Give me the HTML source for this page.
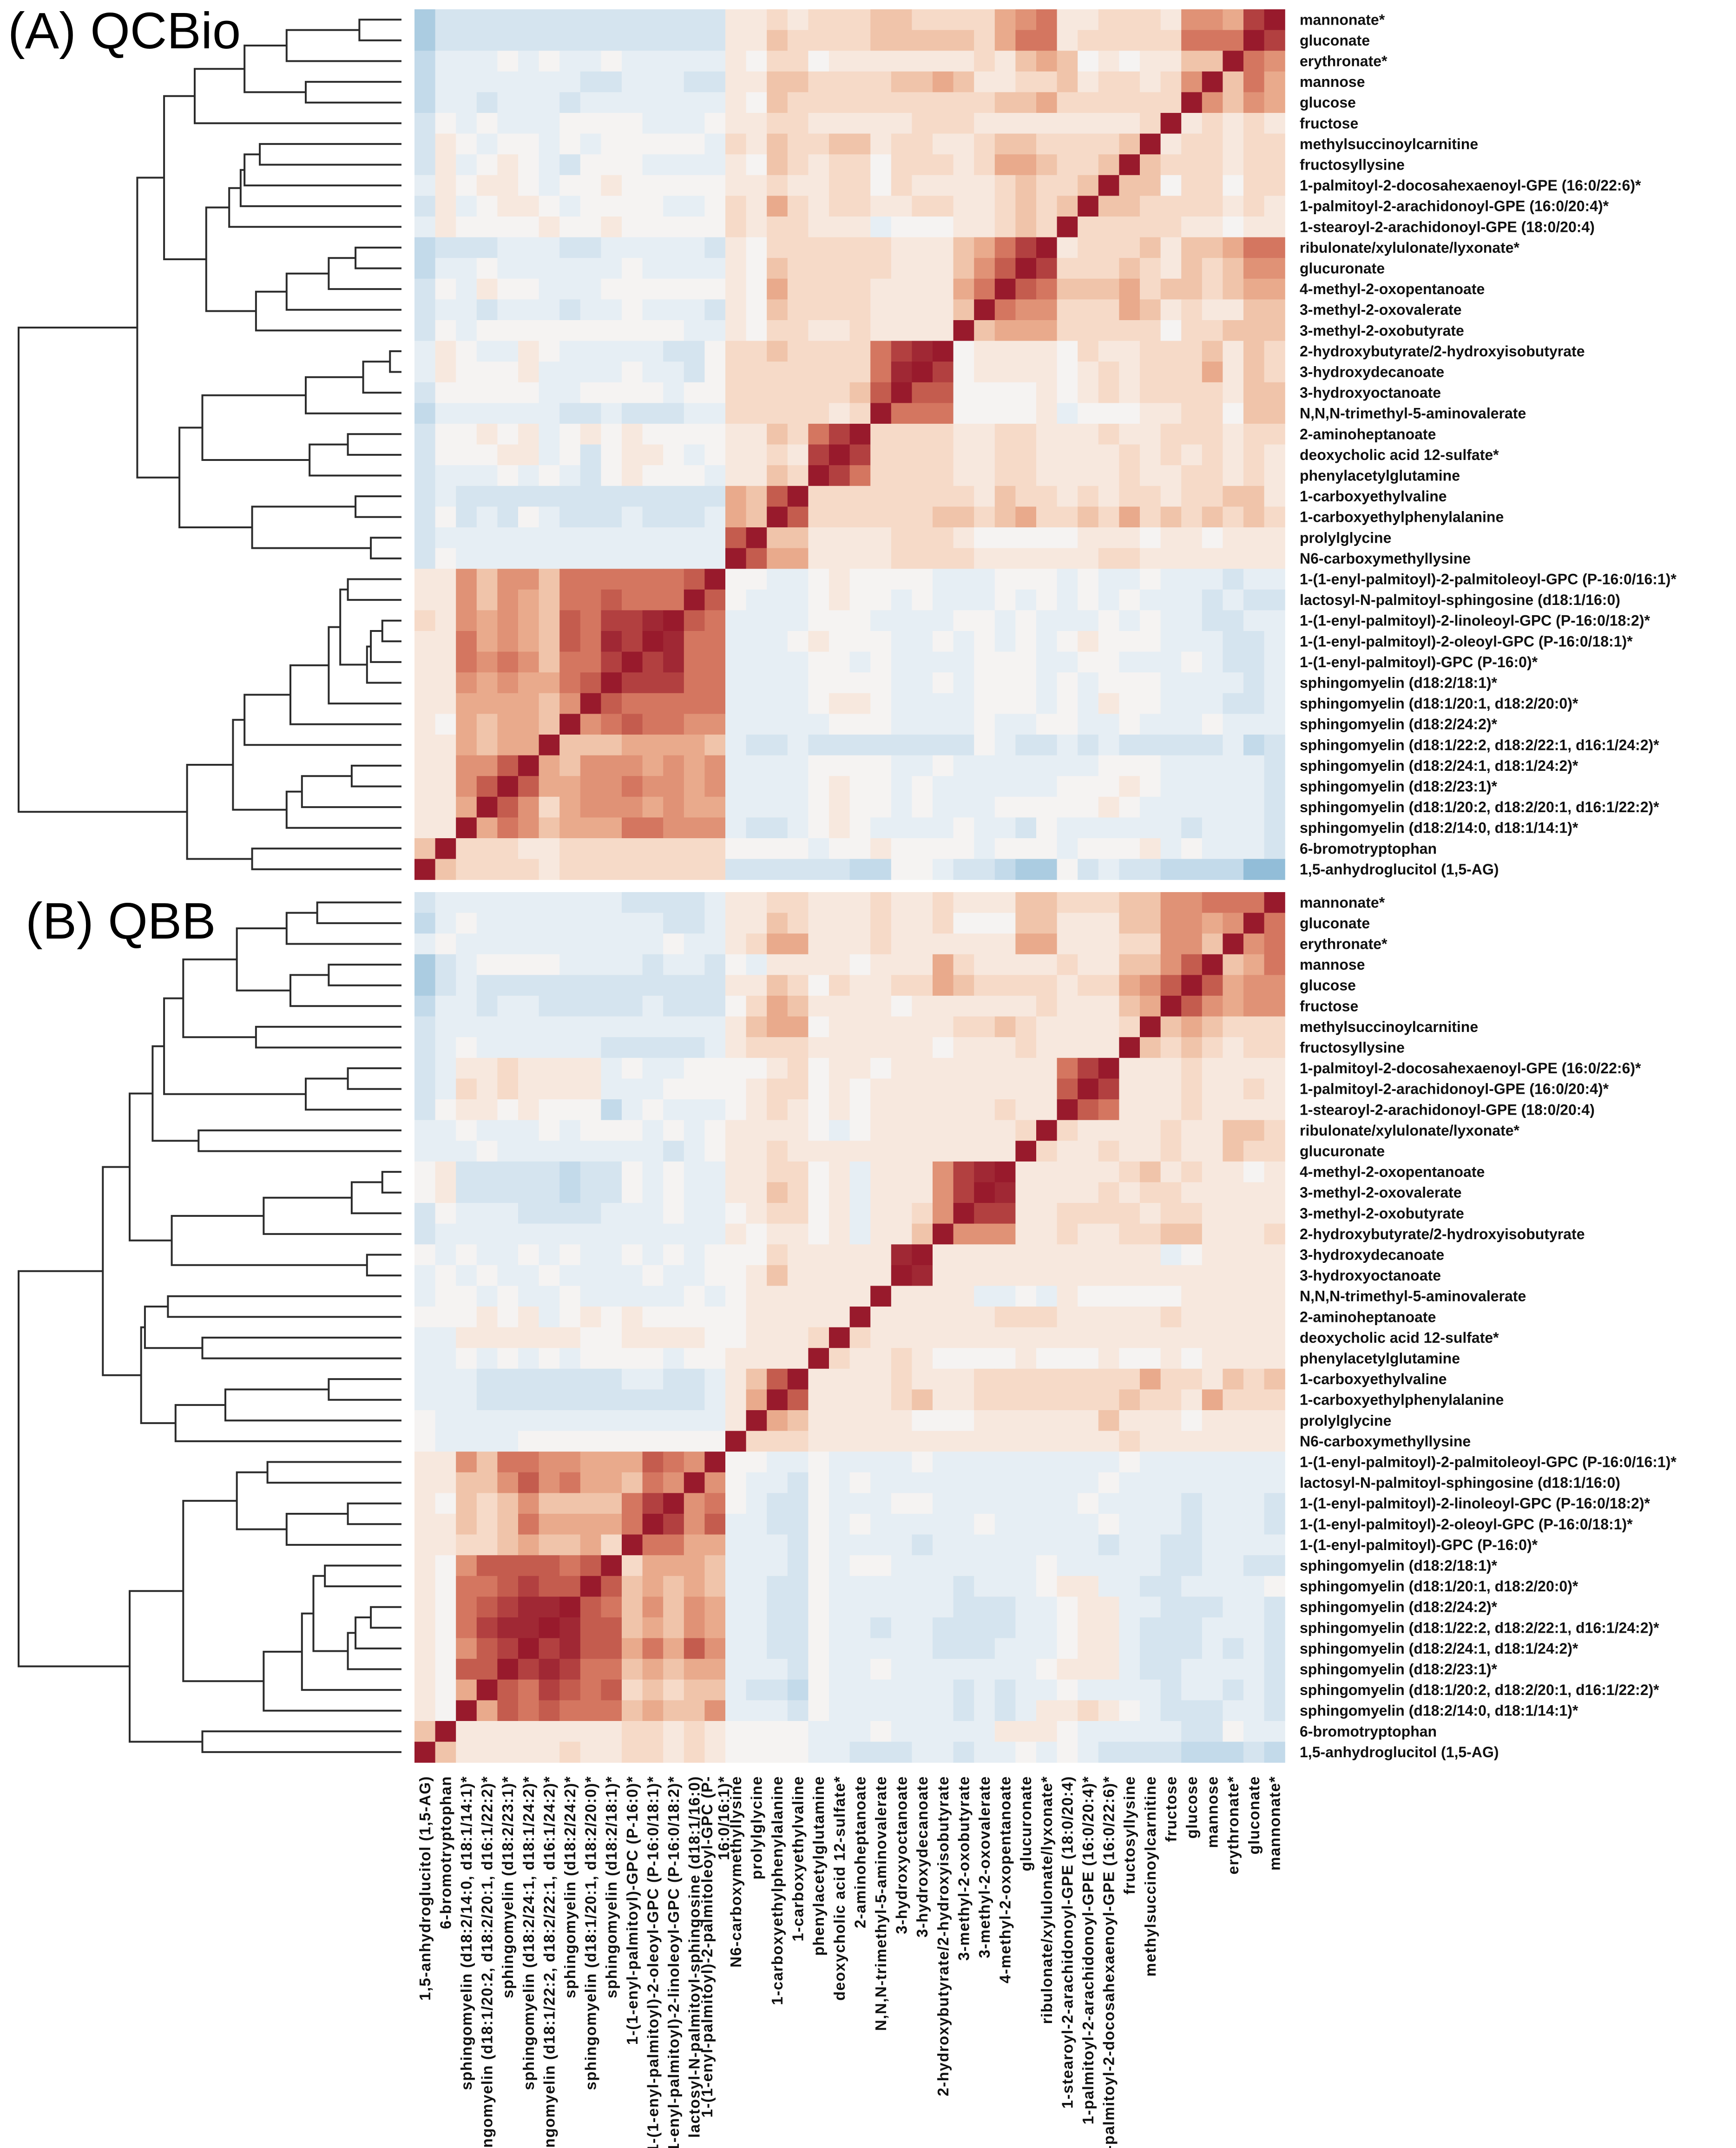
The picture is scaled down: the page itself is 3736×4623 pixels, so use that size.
<!DOCTYPE html>
<html><head><meta charset="utf-8"><style>
html,body{margin:0;padding:0;background:#fff;}
svg{display:block;}
text{font-family:"Liberation Sans",Arial,sans-serif;}
</style></head>
<body>
<svg id="fig" xmlns="http://www.w3.org/2000/svg" width="3736" height="4623" viewBox="0 0 3736 4623">
<rect x="0" y="0" width="3736" height="4623" fill="#ffffff"/>
<text x="17" y="104" font-size="110" fill="#000">(A) QCBio</text>
<text x="55" y="2020" font-size="110" fill="#000">(B) QBB</text>
<g id="panelA"></g>
<g id="panelB"></g>
<g id="dendA"></g>
<g id="dendB"></g>
<g id="rowLabA"></g>
<g id="rowLabB"></g>
<g id="colLab"></g>
</svg>
<script>
// ---- data ----
const rowLabels = ["mannonate*","gluconate","erythronate*","mannose","glucose","fructose","methylsuccinoylcarnitine","fructosyllysine","1-palmitoyl-2-docosahexaenoyl-GPE (16:0/22:6)*","1-palmitoyl-2-arachidonoyl-GPE (16:0/20:4)*","1-stearoyl-2-arachidonoyl-GPE (18:0/20:4)","ribulonate/xylulonate/lyxonate*","glucuronate","4-methyl-2-oxopentanoate","3-methyl-2-oxovalerate","3-methyl-2-oxobutyrate","2-hydroxybutyrate/2-hydroxyisobutyrate","3-hydroxydecanoate","3-hydroxyoctanoate","N,N,N-trimethyl-5-aminovalerate","2-aminoheptanoate","deoxycholic acid 12-sulfate*","phenylacetylglutamine","1-carboxyethylvaline","1-carboxyethylphenylalanine","prolylglycine","N6-carboxymethyllysine","1-(1-enyl-palmitoyl)-2-palmitoleoyl-GPC (P-16:0/16:1)*","lactosyl-N-palmitoyl-sphingosine (d18:1/16:0)","1-(1-enyl-palmitoyl)-2-linoleoyl-GPC (P-16:0/18:2)*","1-(1-enyl-palmitoyl)-2-oleoyl-GPC (P-16:0/18:1)*","1-(1-enyl-palmitoyl)-GPC (P-16:0)*","sphingomyelin (d18:2/18:1)*","sphingomyelin (d18:1/20:1, d18:2/20:0)*","sphingomyelin (d18:2/24:2)*","sphingomyelin (d18:1/22:2, d18:2/22:1, d16:1/24:2)*","sphingomyelin (d18:2/24:1, d18:1/24:2)*","sphingomyelin (d18:2/23:1)*","sphingomyelin (d18:1/20:2, d18:2/20:1, d16:1/22:2)*","sphingomyelin (d18:2/14:0, d18:1/14:1)*","6-bromotryptophan","1,5-anhydroglucitol (1,5-AG)"];
// column labels: left to right = reverse of row order
const colLabels = rowLabels.slice().reverse();
// correlation rows (screen order), one char per cell: 0-9 => 0.0-0.9, X => 1.0, a-e => -0.1..-0.5
const corrA = [
"db"+"bbbbbbbbbbbbb"+"11212223322224561122215548X",
"db"+"bbbbbbbbbbbbb"+"1132222333332466122222666X8",
"ca"+"aa0a0aa0aaaaa"+"102201111111213430101133X65",
"ca"+"aaaaaabbaaabb"+"11332222334311223122125X364",
"ca"+"abaaabaaaaaaa"+"1032222222222334222222X5354",
"b0"+"a0aaa0000aaa0"+"112211111222111111112X12121",
"b1"+"0a00a0a00000a"+"21322331221123322223X122122",
"b1"+"a010ab000aaaa"+"1032122022212443223X3222122",
"a1"+"0110a00100000"+"112112202111123223X33022022",
"b1"+"a0110a0000aa0"+"21421221122112323X332222121",
"a1"+"0000100100000"+"2122111a00011232X2222211011",
"cb"+"bbaaabbaaaaab"+"102222221113468X12223133466",
"ca"+"a0aaaaaa0aaaa"+"10322222111357X822232132355",
"b0"+"a100aaa000000"+"1042222111146X7633342332344",
"ba"+"abaaabaa0aaab"+"103222211113X65522243121133",
"b0"+"a0000000000aa"+"10221121111X344422222022333",
"a1"+"0aa10aaaaabb0"+"2232222689X0111102112223132",
"a1"+"0001aaaa0aab0"+"222222269X80111101212224132",
"b0"+"0000aa0000a00"+"22222237X770000101212222133",
"ca"+"aaaaabbabbbaa"+"2222212X66600001a0001122033",
"b0"+"0101a01010000"+"113268X22221122111211222122",
"b0"+"0011a0b0110a0"+"11218X822221122111121212121",
"ba"+"aa0a0ab01000a"+"1132X8622221122111121122121",
"ba"+"bbbbbbbbbbbbb"+"437X22222222132212122122331",
"b0"+"bab0abbbabbba"+"43X722222233234223242323232",
"ba"+"aaaaaaaaaaaaa"+"7X3311112221000001110110111",
"b0"+"aaaaaaaaaaaaa"+"X74411112222111111221111111",
"11"+"535536666667X"+"00aa010000aaa000a0aa0aaabaa",
"11"+"53543667666X7"+"0aaa0100a0aaa0a0a0a0aaababb",
"21"+"5454376889X76"+"aaaa000aaaa00a0aaa0a0aabbaa",
"11"+"645437698X966"+"aaa01000aa0a0a0a01000aaabba",
"11"+"65653668X8966"+"aaaa00a0aaaa000aa00aaa0abba",
"11"+"5454467X88866"+"aaaa0000aa0a000a0a000aaaaba",
"11"+"444435X766666"+"aaaa0110aaaa000a0a100aaabba",
"10"+"43443X5676655"+"aaaaa000aaaa0aa00aa0aaa0aaa",
"11"+"4344X33344443"+"abbabbbbbbbb0abbababbbbbacb",
"11"+"557X435554545"+"aaaa0000aa0aaaaaaa000aaaaab",
"11"+"57X7445565545"+"aaaa0100a0aaaaaa00010aaaaab",
"11"+"4X75245554544"+"aaaa0100a0aaa0000010aaaaaab",
"11"+"X465344466555"+"abba010aaaa0aab0aaaaaabaaab",
"3X"+"2221122222222"+"0000a0010000a000a0001a0aaab",
"X3"+"2222122222222"+"bbbbbbcc00abbcdd0babbccccee"
];
const corrB = [
"ba"+"aaaaaaaabbbba"+"11221112112111332223355666X",
"ca"+"0aaaaaaaaabba"+"1132111211200033111335545X6",
"a0"+"aaaaaaaaaa0aa"+"124411121111114411122553X56",
"db"+"a0000aaaabaab"+"0a111101114211112113357X346",
"db"+"abbbbbbbbbbbb"+"1132021122432222122457X7455",
"ca"+"abaabbbbbabbb"+"024311110111111211134X75455",
"ba"+"aaaaaaaaaaaaa"+"13440111111223211112X343222",
"ba"+"0aaaaaabbbbba"+"1222111111011121111X3232122",
"ba"+"1121111a0aa00"+"001201101111111168X11121111",
"ba"+"2121111aaa000"+"01220101111111117X811121121",
"b0"+"1101000ca0aaa"+"0121010111111211X7611121111",
"aa"+"0aaa0a000a0a0"+"11110a011111112X21111211332",
"aa"+"a0aaaaaaaaba0"+"11211111111111X211211211322",
"01"+"bbbbbcbb0a0aa"+"112201a111589X1111123121101",
"01"+"bbbbbcbb0a0aa"+"113201a11158X91111212211111",
"b0"+"aaabbbbaaa0aa"+"012201a1125X881122221221111",
"ba"+"aaaaaaaaaaaaa"+"101101a113X5551121122331112",
"0a"+"0aa0a0aa0a0a0"+"002111119X11111111111a01111",
"a0"+"a0aa0aaaa0aa0"+"01311111X911111111111111111",
"a0"+"0a0aa0aaaaa0a"+"0111111X1111aa0a10000011111",
"00"+"0101a01010000"+"011111X11111122211111211111",
"aa"+"1111110011110"+"01112X211111111111111111111",
"aa"+"0a0a0a0000a00"+"1111X2112100001000100101111",
"aa"+"abbbbbbbaabba"+"137X11112111222222224221323",
"aa"+"abbbbbbbbbbba"+"14X711112311222222232214222",
"0a"+"aaaaaaaaaaaaa"+"1X4311111000111111311101111",
"0a"+"aaa0000000000"+"X22211111111111111121111111",
"11"+"536655444765X"+"00aa0aaaa0aaaaaaaaa0aaaaaaa",
"11"+"33575644365X5"+"0aab0a0aaaaaaaaaaa0aaaaaaaa",
"10"+"3235333368X56"+"0abb0aaa00aaaaaaa0aaaabaaab",
"11"+"323644446X857"+"aabb0a0aaaaa0aaaaa0aaabaaab",
"11"+"22343342X6644"+"aaab0aaaabaaaaaaaabaabbaaaa",
"10"+"5777767X24443"+"aaab0a00aaaaaaa0aaaaabbaabb",
"10"+"667877X734343"+"aabb0aaaaaabaaa011aabbaaaa0",
"10"+"67899X7635354"+"aabb0aaaaaabbbaa011aabbbaab",
"10"+"6899X97734354"+"aabb0aabaabbbbaa011abbbaaab",
"10"+"578X897746475"+"aabb0aaaaabbbaaa011abbbabab",
"10"+"77X8986634344"+"aaab0aa0aaaaaaa0111abbaaaab",
"10"+"4X76876723233"+"abbc0aaaaaababaa0aaaabaabab",
"10"+"X476766634335"+"aaab0aaaaaababa11210abbbaab",
"3X"+"1111111122121"+"0000aaa0aaaaa1110aaaaabb0aa",
"X3"+"1111121122121"+"0000aabbbaabaa0a0abbbbcccbc"
];
// dendrogram linkages: [childA, childB, distance (root = 1)], node ids from 42 upward
const linkA = [[0,1,.11],[42,2,.30],[3,4,.25],[43,44,.41],[45,5,.54],[6,7,.37],[47,8,.41],[48,9,.42],[49,10,.45],[11,12,.12],[51,13,.19],[52,14,.30],[53,15,.38],[50,54,.51],[46,55,.62],[16,17,.03],[57,18,.10],[58,19,.25],[20,21,.14],[60,22,.24],[59,61,.52],[23,24,.12],[25,26,.08],[63,64,.39],[62,65,.58],[56,66,.69],[27,28,.14],[29,30,.05],[69,31,.08],[70,32,.09],[68,71,.16],[72,33,.19],[73,34,.29],[74,35,.41],[36,37,.13],[76,38,.26],[77,39,.30],[75,78,.44],[40,41,.39],[79,80,.56],[67,81,1.0]];
const linkB = [[0,1,.22],[42,2,.30],[3,4,.19],[44,5,.29],[43,45,.43],[6,7,.38],[46,47,.57],[8,9,.14],[49,10,.25],[48,50,.62],[11,12,.53],[51,52,.65],[13,14,.05],[54,15,.13],[55,16,.36],[17,18,.09],[56,57,.60],[53,58,.71],[19,20,.61],[21,22,.52],[60,61,.67],[23,24,.19],[63,25,.46],[64,26,.59],[62,65,.68],[59,66,.78],[27,28,.35],[29,30,.14],[69,31,.30],[68,70,.43],[32,33,.20],[34,35,.08],[73,36,.12],[74,37,.14],[72,75,.23],[76,38,.26],[77,39,.36],[71,78,.57],[40,41,.52],[79,80,.71],[67,81,1.0]];

// ---- layout ----
const NS = "http://www.w3.org/2000/svg";
const N = 42, CELL = 44.6, LEFT = 892;
const panels = [{top:20, corr:corrA, link:linkA, g:"panelA", d:"dendA", l:"rowLabA"},
                {top:1920, corr:corrB, link:linkB, g:"panelB", d:"dendB", l:"rowLabB"}];
const LEAF_X = 864, ROOT_X = 40;
const xScale = d => LEAF_X - d*(LEAF_X-ROOT_X);

function decode(ch){
  if(ch==='X') return 1;
  if(ch>='0'&&ch<='9') return (+ch)/10;
  return -(ch.charCodeAt(0)-96)/10;
}
const stops = [[-0.6,[120,170,208]],[-0.5,[146,189,216]],[-0.3,[195,218,234]],[-0.1,[230,238,244]],[0,[245,243,242]],[0.1,[247,232,222]],[0.2,[246,218,200]],[0.3,[240,196,170]],[0.4,[233,170,140]],[0.5,[224,146,118]],[0.6,[212,118,96]],[0.7,[196,92,78]],[0.8,[178,64,64]],[0.9,[160,40,52]],[1.0,[152,26,44]]];
function color(v){
  if(v<=stops[0][0]) return "rgb("+stops[0][1].join(",")+")";
  for(let i=1;i<stops.length;i++){
    if(v<=stops[i][0]){
      const [a,ca]=stops[i-1],[b,cb]=stops[i];const t=(v-a)/(b-a);
      return "rgb("+ca.map((c,k)=>Math.round(c+(cb[k]-c)*t)).join(",")+")";
    }
  }
  return "rgb(152,26,44)";
}
function mk(tag, attrs, parent){
  const e=document.createElementNS(NS,tag);
  for(const k in attrs) e.setAttribute(k, attrs[k]);
  parent.appendChild(e); return e;
}

panels.forEach(p=>{
  const g=document.getElementById(p.g);
  for(let r=0;r<N;r++){
    let s=p.corr[r]; while(s.length<N) s+="0"; s=s.slice(0,N);
    for(let c=0;c<N;c++){
      const v=decode(s[c]);
      const rc=mk("rect",{x:(LEFT+c*CELL).toFixed(1),y:(p.top+r*CELL).toFixed(1),width:(CELL+0.6).toFixed(1),height:(CELL+0.6).toFixed(1),fill:color(v)},g);
      
      
    }
  }
  const lg=document.getElementById(p.l);
  rowLabels.forEach((lab,i)=>{
    const t=mk("text",{x:2797,y:(p.top+(i+0.5)*CELL).toFixed(1),"font-size":32,"font-weight":"bold","dominant-baseline":"central",fill:"#111"},lg);
    t.textContent=lab;
    
    
  });
  const dg=document.getElementById(p.d);
  const ny=[], nx=[];
  for(let i=0;i<N;i++){ny[i]=p.top+(i+0.5)*CELL; nx[i]=LEAF_X;}
  p.link.forEach((lk,k)=>{
    const [a,b,d]=lk; const id=N+k;
    const xp=xScale(d);
    nx[id]=xp; ny[id]=(ny[a]+ny[b])/2;
    const path=mk("path",{d:"M"+nx[a].toFixed(1)+" "+ny[a].toFixed(1)+"H"+xp.toFixed(1)+"V"+ny[b].toFixed(1)+"H"+nx[b].toFixed(1),fill:"none",stroke:"#2b2b2b","stroke-width":4},dg);
    
    
  });
});

const cg=document.getElementById("colLab");
colLabels.forEach((lab,c)=>{
  const cx=LEFT+(c+0.5)*CELL, y0=3822;
  let lines=[lab];
  const idx=lab.indexOf("(P-16:0/16:1)");
  if(idx>=0){lines=[lab.slice(0,idx+3), lab.slice(idx+3)];}
  lines.forEach((ln,j)=>{
    const off = lines.length>1 ? (j===0?-17:19) : 0;
    const x=cx+off;
    const t=mk("text",{x:x.toFixed(1),y:y0,"font-size":33,"font-weight":"bold","letter-spacing":1.5,"text-anchor":"end","dominant-baseline":"central",fill:"#111",transform:"rotate(-90 "+x.toFixed(1)+" "+y0+")"},cg);
    t.textContent=ln;
    
    
  });
});
</script>
</body></html>
